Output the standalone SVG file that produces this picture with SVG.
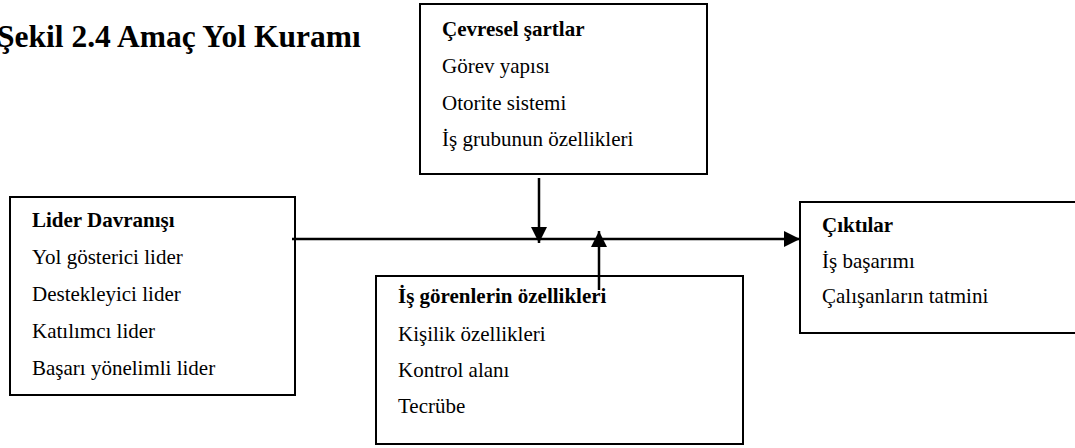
<svg xmlns="http://www.w3.org/2000/svg" width="1075" height="448" viewBox="0 0 1075 448">
<defs>
<style>
.box{fill:#fff;stroke:#000;stroke-width:2}
.t{font-family:"Liberation Serif","Times New Roman",serif;font-size:21px;fill:#000}
.b{font-weight:bold}
.title{font-family:"Liberation Serif","Times New Roman",serif;font-size:31.5px;font-weight:bold;fill:#000}
.ln{stroke:#000;stroke-width:2.5;fill:none}
</style>
<marker id="ah" viewBox="0 0 16 16" refX="16" refY="8" markerWidth="16" markerHeight="16" markerUnits="userSpaceOnUse" orient="auto">
<path d="M0,0 L16,8 L0,16 Z" fill="#000"/>
</marker>
</defs>
<rect width="1075" height="448" fill="#fff"/>
<text class="title" x="-3" y="47">Şekil 2.4 Amaç Yol Kuramı</text>

<g id="cevresel">
<rect class="box" x="420" y="4" width="287" height="170"/>
<text class="t b" x="442" y="36">Çevresel şartlar</text>
<text class="t" x="442" y="73">Görev yapısı</text>
<text class="t" x="442" y="110">Otorite sistemi</text>
<text class="t" x="442" y="146">İş grubunun özellikleri</text>
</g>

<g id="lider">
<rect class="box" x="10" y="197" width="285" height="198"/>
<text class="t b" x="32" y="227">Lider Davranışı</text>
<text class="t" x="32" y="264">Yol gösterici lider</text>
<text class="t" x="32" y="301">Destekleyici lider</text>
<text class="t" x="32" y="338">Katılımcı lider</text>
<text class="t" x="32" y="375">Başarı yönelimli lider</text>
</g>

<g id="isgorenler">
<rect class="box" x="376" y="276" width="367" height="168"/>
<text class="t b" x="398" y="303">İş görenlerin özellikleri</text>
<text class="t" x="398" y="341">Kişilik özellikleri</text>
<text class="t" x="398" y="377">Kontrol alanı</text>
<text class="t" x="398" y="413">Tecrübe</text>
</g>

<g id="ciktilar">
<rect class="box" x="800" y="202" width="280" height="131"/>
<text class="t b" x="822" y="232">Çıktılar</text>
<text class="t" x="822" y="268">İş başarımı</text>
<text class="t" x="822" y="303">Çalışanların tatmini</text>
</g>

<g id="connectors">
<line class="ln" x1="292" y1="239" x2="800" y2="239" marker-end="url(#ah)"/>
<line class="ln" x1="539" y1="178" x2="539" y2="243" marker-end="url(#ah)"/>
<line class="ln" x1="599" y1="290" x2="599" y2="231" marker-end="url(#ah)"/>
</g>
</svg>
